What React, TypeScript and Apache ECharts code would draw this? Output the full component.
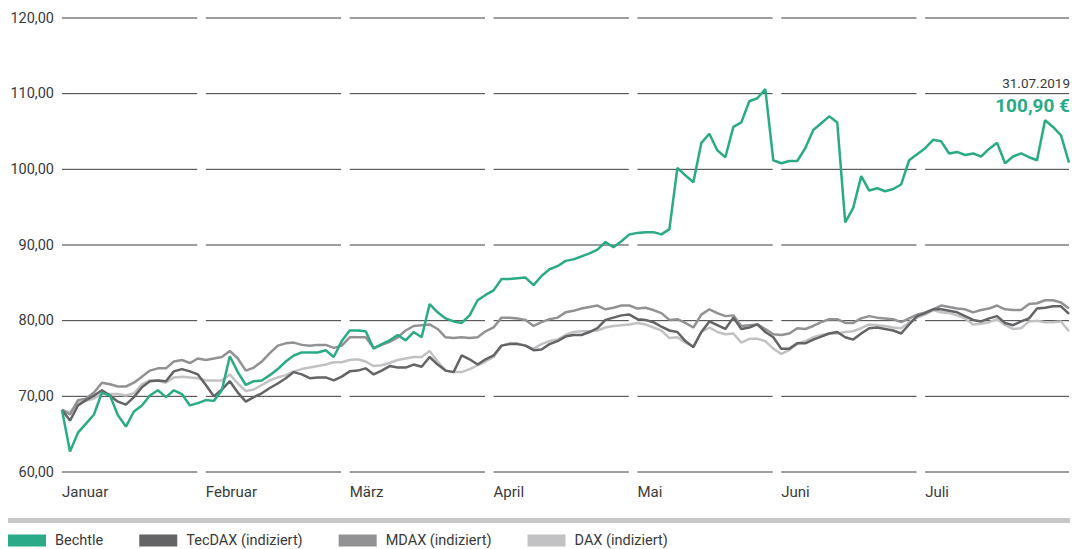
import React, { useEffect, useRef } from "react";
import * as echarts from "echarts";

const months = ["Januar", "Februar", "März", "April", "Mai", "Juni", "Juli"];
const yTicks = [60, 70, 80, 90, 100, 110, 120];

const seriesNames = ["Bechtle", "TecDAX (indiziert)", "MDAX (indiziert)", "DAX (indiziert)"];
const seriesColors = ["#2aaa86", "#646467", "#929295", "#c2c2c4"];

const bechtle = [
  68.2, 62.7, 65.2, 66.4, 67.6, 70.5, 70.1, 67.5, 66.0, 68.0,
  68.8, 70.1, 70.8, 69.9, 70.8, 70.3, 68.8, 69.1, 69.5, 69.4,
  70.8, 75.3, 73.2, 71.5, 72.0, 72.1, 72.8, 73.6, 74.6, 75.4,
  75.8, 75.8, 75.8, 76.1, 75.2, 77.3, 78.7, 78.7, 78.6, 76.3,
  76.9, 77.4, 78.1, 77.4, 78.5, 77.8, 82.2, 81.1, 80.3, 79.9,
  79.7, 80.7, 82.7, 83.4, 84.0, 85.5, 85.5, 85.6, 85.7, 84.7,
  85.9, 86.8, 87.2, 87.9, 88.1, 88.5, 88.9, 89.4, 90.4, 89.7,
  90.5, 91.4, 91.6, 91.7, 91.7, 91.4, 92.1, 100.2, 99.2, 98.3,
  103.5, 104.7, 102.5, 101.6, 105.6, 106.2, 109.0, 109.4, 110.6, 101.2,
  100.8, 101.1, 101.1, 102.8, 105.2, 106.1, 107.0, 106.2, 93.0, 94.9,
  99.1, 97.2, 97.5, 97.1, 97.4, 98.0, 101.2, 102.0, 102.8, 103.9,
  103.7, 102.1, 102.3, 101.9, 102.1, 101.7, 102.7, 103.5, 100.8, 101.7,
  102.1, 101.6, 101.2, 106.5, 105.6, 104.5, 100.9,
];

const tecdax = [
  68.2, 66.8, 68.8, 69.5, 70.1, 70.8, 70.1, 69.3, 68.9, 69.9,
  71.2, 72.0, 72.1, 72.0, 73.3, 73.6, 73.3, 72.9, 71.5, 70.0,
  70.9, 72.0, 70.5, 69.3, 69.9, 70.4, 71.1, 71.7, 72.4, 73.2,
  72.9, 72.4, 72.5, 72.5, 72.1, 72.6, 73.3, 73.4, 73.7, 72.9,
  73.4, 74.0, 73.8, 73.8, 74.2, 73.9, 75.2, 74.2, 73.4, 73.2,
  75.4, 74.9, 74.2, 74.9, 75.4, 76.7, 76.9, 76.9, 76.7, 76.1,
  76.2, 76.9, 77.3, 77.9, 78.1, 78.1, 78.5, 79.0, 80.1, 80.4,
  80.7, 80.8, 80.2, 80.1, 79.8, 79.2, 78.7, 78.5, 77.3, 76.5,
  78.5, 79.9, 79.4, 78.9, 80.4, 78.9, 79.1, 79.5, 78.5, 77.8,
  76.3, 76.3, 77.0, 77.0, 77.5, 77.9, 78.3, 78.5, 77.8, 77.5,
  78.3, 79.0, 79.1, 78.9, 78.7, 78.3, 79.5, 80.6, 81.0, 81.5,
  81.5, 81.3, 81.1, 80.6, 80.1, 79.9, 80.3, 80.6, 79.7, 79.4,
  79.9, 80.3, 81.6, 81.7, 81.9, 81.9, 80.9,
];

const mdax = [
  68.2, 67.6, 69.5, 69.7, 70.5, 71.8, 71.6, 71.3, 71.3, 71.8,
  72.6, 73.4, 73.7, 73.7, 74.6, 74.8, 74.4, 75.0, 74.8, 75.0,
  75.2, 76.0, 75.0, 73.4, 73.8, 74.6, 75.7, 76.7, 77.0, 77.1,
  76.8, 76.7, 76.8, 76.8, 76.4, 76.7, 77.8, 77.8, 77.8, 76.4,
  76.8, 77.2, 77.8, 78.7, 79.3, 79.4, 79.5, 78.9, 77.8, 77.7,
  77.8, 77.7, 77.8, 78.6, 79.1, 80.4, 80.4, 80.3, 80.1, 79.3,
  79.8, 80.2, 80.4, 81.1, 81.3, 81.6, 81.8, 82.0, 81.5, 81.7,
  82.0, 82.0, 81.6, 81.7, 81.4, 81.0, 80.1, 80.2, 79.7, 79.1,
  80.8, 81.5, 81.0, 80.6, 80.7, 79.3, 79.4, 79.5, 78.9, 78.2,
  78.1, 78.3, 79.0, 78.9, 79.3, 79.8, 80.2, 80.2, 79.7, 79.7,
  80.3, 80.6, 80.4, 80.3, 80.2, 79.8, 80.3, 80.8, 81.1, 81.5,
  82.0, 81.8, 81.6, 81.5, 81.1, 81.4, 81.6, 82.0, 81.5, 81.4,
  81.4, 82.2, 82.3, 82.7, 82.7, 82.4, 81.6,
];

const dax = [
  68.2, 67.9, 69.2, 69.4, 69.7, 70.4, 70.3, 70.3, 70.1, 70.4,
  71.6, 72.1, 72.1, 71.8, 72.5, 72.6, 72.5, 72.4, 72.1, 72.1,
  72.1, 72.9, 71.7, 70.7, 70.9, 71.5, 72.1, 72.5, 72.8, 73.3,
  73.6, 73.8, 74.0, 74.2, 74.5, 74.5, 74.8, 74.9, 74.6, 74.0,
  74.1, 74.4, 74.8, 75.0, 75.2, 75.2, 76.0, 74.6, 73.4, 73.2,
  73.2, 73.6, 74.1, 74.6, 75.2, 76.7, 77.0, 77.0, 76.7, 76.3,
  76.9, 77.3, 77.5, 78.1, 78.5, 78.6, 78.6, 78.7, 79.1, 79.3,
  79.4, 79.5, 79.7, 79.5, 79.1, 78.7, 77.7, 77.8, 77.1, 76.6,
  78.5, 79.1, 78.5, 78.2, 78.3, 77.1, 77.6, 77.6, 77.3, 76.3,
  75.6, 76.1, 77.0, 77.3, 77.8, 78.1, 78.3, 78.3, 78.5, 78.6,
  79.0, 79.5, 79.4, 79.3, 79.1, 79.0, 79.8, 80.4, 80.8, 81.4,
  81.1, 81.0, 80.7, 80.3, 79.5, 79.6, 79.8, 80.2, 79.4, 78.9,
  79.0, 79.9, 80.0, 79.8, 79.8, 79.9, 78.6,
];

const lastDate = "31.07.2019";
const lastPrice = "100,90 €";

const FONT = "Roboto, 'Noto Sans', sans-serif";

export default function App() {
  const ref = useRef<HTMLDivElement>(null);

  useEffect(() => {
    if (!ref.current) return;
    const chart = echarts.init(ref.current, null, { renderer: "svg" });
    const days = bechtle.map((_, i) => String(i));
    const gridData: number[][] = [];
    months.forEach((_, m) => yTicks.forEach((y) => gridData.push([m, y])));
    const lineData = [bechtle, tecdax, mdax, dax];

    const lines = lineData.map((d, k) => ({
      name: seriesNames[k],
      type: "line",
      xAxisIndex: 0,
      yAxisIndex: 0,
      data: d,
      symbol: "none",
      showSymbol: false,
      z: 10 - k,
      lineStyle: { color: seriesColors[k], width: 2.5 },
      itemStyle: { color: seriesColors[k] },
    }));

    chart.setOption({
      animation: false,
      grid: { left: 62, right: 2, top: 18, bottom: 77, containLabel: false },
      legend: {
        left: 8,
        top: 533,
        padding: 0,
        icon: "rect",
        itemWidth: 38,
        itemHeight: 12,
        itemGap: 36,
        selectedMode: false,
        data: seriesNames,
        textStyle: {
          fontFamily: FONT,
          fontSize: 14.5,
          lineHeight: 12,
          color: "#3a3a3a",
          padding: [0, 0, 0, 4],
        },
      },
      xAxis: [
        {
          type: "category",
          data: days,
          boundaryGap: false,
          show: false,
          position: "bottom",
        },
        {
          type: "value",
          min: 0,
          max: 7,
          interval: 1,
          position: "bottom",
          axisLine: { show: false },
          axisTick: { show: false },
          splitLine: { show: false },
          axisLabel: {
            align: "left",
            margin: 12,
            fontFamily: FONT,
            fontSize: 15,
            color: "#3a3a3a",
            formatter: (v: number) => months[v] ?? "",
          },
        },
      ],
      yAxis: {
        type: "value",
        min: 60,
        max: 120,
        interval: 10,
        axisLine: { show: false },
        axisTick: { show: false },
        splitLine: { show: false },
        axisLabel: {
          margin: 8,
          fontFamily: FONT,
          fontSize: 14.5,
          color: "#3a3a3a",
          formatter: (v: number) => v.toFixed(2).replace(".", ","),
        },
      },
      graphic: [
        { type: "rect", left: 8, top: 518, shape: { width: 1062, height: 5 }, style: { fill: "#c6c7c9" } },
        {
          type: "text",
          right: 2,
          top: 76,
          style: { text: lastDate, font: `13.5px ${FONT}`, fill: "#3a3a3a" },
        },
        {
          type: "text",
          right: 2,
          top: 96,
          style: { text: lastPrice, font: `bold 19px ${FONT}`, fill: seriesColors[0] },
        },
      ],
      series: [
        {
          type: "custom",
          xAxisIndex: 1,
          yAxisIndex: 0,
          silent: true,
          z: 1,
          data: gridData,
          renderItem: (params: any, api: any) => {
            const m = api.value(0);
            const y = api.value(1);
            const end = m === 6 ? 7 : m + 0.94;
            const p1 = api.coord([m, y]);
            const p2 = api.coord([end, y]);
            return {
              type: "line",
              shape: { x1: p1[0], y1: p1[1], x2: p2[0], y2: p2[1] },
              style: { stroke: "#3c3c3c", lineWidth: 1 },
            };
          },
        },
        ...lines.slice().reverse(),
      ],
    });
    return () => chart.dispose();
  }, []);

  return (
    <div
      ref={ref}
      style={{ position: "absolute", left: 0, top: 0, width: 1072, height: 549 }}
    />
  );
}
